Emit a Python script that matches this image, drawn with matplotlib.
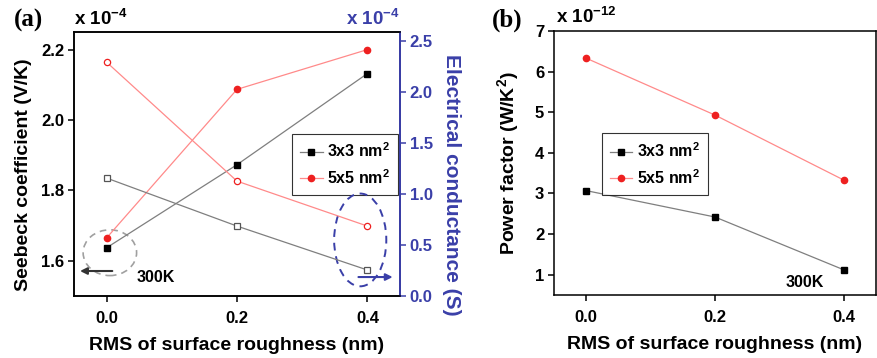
import matplotlib
matplotlib.use("Agg")
import matplotlib.pyplot as plt
from matplotlib.patches import Ellipse

plt.rcParams['font.family'] = ['Liberation Sans', 'DejaVu Sans']
plt.rcParams['font.weight'] = 'bold'
plt.rcParams['mathtext.fontset'] = 'custom'
plt.rcParams['mathtext.rm'] = 'Liberation Sans:bold'
plt.rcParams['mathtext.bf'] = 'Liberation Sans:bold'
plt.rcParams['mathtext.it'] = 'Liberation Sans:bold'

# ---- data ----
roughness = [0.0, 0.2, 0.4]
seebeck_3x3 = [1.637, 1.873, 2.132]      # x1e-4 V/K
seebeck_5x5 = [1.665, 2.087, 2.200]
cond_3x3 = [1.157, 0.686, 0.255]         # x1e-4 S
cond_5x5 = [2.294, 1.127, 0.686]
pf_3x3 = [3.07, 2.42, 1.12]              # x1e-12 W/K^2
pf_5x5 = [6.33, 4.93, 3.33]
series_labels = ['3x3 nm$^{2}$', '5x5 nm$^{2}$']
xticks = [0.0, 0.2, 0.4]

BLACK_LINE = '#7f7f7f'
RED_LINE = '#ff8a8a'
RED = '#ee2020'
BLUE = '#3a3fa8'

TICK_FS = 12
LABEL_FS = 14
LEG_FS = 11.5

W, H = 877, 358
fig = plt.figure(figsize=(W / 100, H / 100), dpi=100)

def rect(l, t, r, b):
    return [l / W, 1 - b / H, (r - l) / W, (b - t) / H]

# ---------------- panel (a) ----------------
ax = fig.add_axes(rect(74, 32, 400, 296))
ax2 = ax.twinx()
ax.set_xlim(-0.05, 0.45)
ax.set_ylim(1.5, 2.25)
ax2.set_ylim(0, 2.59)

ax.plot(roughness, seebeck_3x3, '-', color=BLACK_LINE, lw=0.9,
        marker='s', ms=4, mfc='black', mec='black', label=series_labels[0])
ax.plot(roughness, seebeck_5x5, '-', color=RED_LINE, lw=0.9,
        marker='o', ms=4.5, mfc=RED, mec=RED, label=series_labels[1])
ax2.plot(roughness, cond_3x3, '-', color=BLACK_LINE, lw=0.9,
         marker='s', ms=4, mfc='white', mec='#555555', mew=0.9)
ax2.plot(roughness, cond_5x5, '-', color=RED_LINE, lw=0.9,
         marker='o', ms=4.5, mfc='white', mec=RED, mew=0.9)

ax.set_xticks(xticks)
ax.set_xticklabels(['0.0', '0.2', '0.4'])
ax.set_yticks([1.6, 1.8, 2.0, 2.2])
ax.set_yticklabels(['1.6', '1.8', '2.0', '2.2'])
ax2.set_yticks([0.0, 0.5, 1.0, 1.5, 2.0, 2.5])
ax2.set_yticklabels(['0.0', '0.5', '1.0', '1.5', '2.0', '2.5'])

for a in (ax, ax2):
    a.tick_params(direction='out', length=4, width=1.1, labelsize=TICK_FS, pad=3)
    for s in a.spines.values():
        s.set_linewidth(1.1)
ax.tick_params(axis='x', pad=7)
ax.tick_params(axis='y', which='both', right=False)
ax2.tick_params(axis='y', colors=BLUE, labelcolor=BLUE)
ax2.spines['right'].set_color(BLUE)
ax2.spines['right'].set_linewidth(1.4)
for lab in ax.get_xticklabels() + ax.get_yticklabels() + ax2.get_yticklabels():
    lab.set_fontweight('bold')

ax.set_xlabel('RMS of surface roughness (nm)', fontsize=LABEL_FS, fontweight='bold', labelpad=8)
ax.set_ylabel('Seebeck coefficient (V/K)', fontsize=LABEL_FS, fontweight='bold')
ax.yaxis.set_label_coords(-0.128, 0.458)
ax2.set_ylabel('Electrical conductance (S)', fontsize=15, fontweight='bold',
               color=BLUE, rotation=270, va='center')
ax2.yaxis.set_label_coords(1.158, 0.42)

leg = ax.legend(loc='upper right', bbox_to_anchor=(0.995, 0.615), fontsize=LEG_FS,
                frameon=True, fancybox=False, edgecolor='black', handlelength=1.4,
                handletextpad=0.3, borderpad=0.5, labelspacing=0.5, borderaxespad=0)
leg.get_frame().set_linewidth(0.8)
for t in leg.get_texts():
    t.set_fontweight('bold')

# annotations
ax.add_patch(Ellipse((0.005, 1.623), 0.082, 0.13, fill=False, ls=(0, (4, 3)),
                     ec='#a0a0a0', lw=1.2, zorder=1))
ax.annotate('', xy=(-0.045, 1.571), xytext=(0.013, 1.571),
            arrowprops=dict(arrowstyle='-|>', color='#333333', lw=1.5, mutation_scale=10))
ax.text(0.046, 1.552, '300K', fontsize=11.5, fontweight='bold', va='center', ha='left')
ax2.add_patch(Ellipse((0.389, 0.55), 0.08, 0.91, fill=False, ls=(0, (4, 3)),
                      ec=BLUE, lw=1.4, zorder=1))
ax2.annotate('', xy=(0.443, 0.186), xytext=(0.382, 0.186),
             arrowprops=dict(arrowstyle='-|>', color=BLUE, lw=1.5, mutation_scale=10))

fig.text(74 / W, 1 - 19 / H, r'x 10$^{\mathbf{-4}}$', fontsize=13.5, fontweight='bold',
         va='center', ha='left')
fig.text(346 / W, 1 - 19 / H, r'x 10$^{\mathbf{-4}}$', fontsize=13.5, fontweight='bold',
         va='center', ha='left', color=BLUE)
fig.text(14 / W, 1 - 20 / H, '(a)', fontsize=18, fontweight='bold', family='Liberation Serif',
         va='center', ha='left')

# ---------------- panel (b) ----------------
bx = fig.add_axes(rect(554, 31, 876, 295))
bx.set_xlim(-0.05, 0.45)
bx.set_ylim(0.5, 7)
bx.plot(roughness, pf_3x3, '-', color=BLACK_LINE, lw=0.9,
        marker='s', ms=4, mfc='black', mec='black', label=series_labels[0])
bx.plot(roughness, pf_5x5, '-', color=RED_LINE, lw=0.9,
        marker='o', ms=4.5, mfc=RED, mec=RED, label=series_labels[1])
bx.set_xticks(xticks)
bx.set_xticklabels(['0.0', '0.2', '0.4'])
bx.set_yticks([1, 2, 3, 4, 5, 6, 7])
bx.set_yticklabels(['1', '2', '3', '4', '5', '6', '7'])
bx.tick_params(direction='out', length=4, width=1.1, labelsize=TICK_FS, pad=3)
bx.tick_params(axis='x', pad=7)
for s in bx.spines.values():
    s.set_linewidth(1.1)
for lab in bx.get_xticklabels() + bx.get_yticklabels():
    lab.set_fontweight('bold')
bx.set_xlabel('RMS of surface roughness (nm)', fontsize=LABEL_FS, fontweight='bold', labelpad=8)
bx.set_ylabel('Power factor (W/K$^{2}$)', fontsize=LABEL_FS, fontweight='bold')
bx.yaxis.set_label_coords(-0.103, 0.5)
leg2 = bx.legend(loc='upper left', bbox_to_anchor=(0.149, 0.612), fontsize=LEG_FS,
                 frameon=True, fancybox=False, edgecolor='black', handlelength=1.4,
                 handletextpad=0.3, borderpad=0.5, labelspacing=0.5, borderaxespad=0)
leg2.get_frame().set_linewidth(0.8)
for t in leg2.get_texts():
    t.set_fontweight('bold')
bx.text(0.31, 0.82, '300K', fontsize=11.5, fontweight='bold', va='center', ha='left')
fig.text(556 / W, 1 - 17 / H, r'x 10$^{\mathbf{-12}}$', fontsize=13.5, fontweight='bold',
         va='center', ha='left')
fig.text(492 / W, 1 - 20 / H, '(b)', fontsize=18, fontweight='bold', family='Liberation Serif',
         va='center', ha='left')

fig.savefig('out.png', dpi=100)
